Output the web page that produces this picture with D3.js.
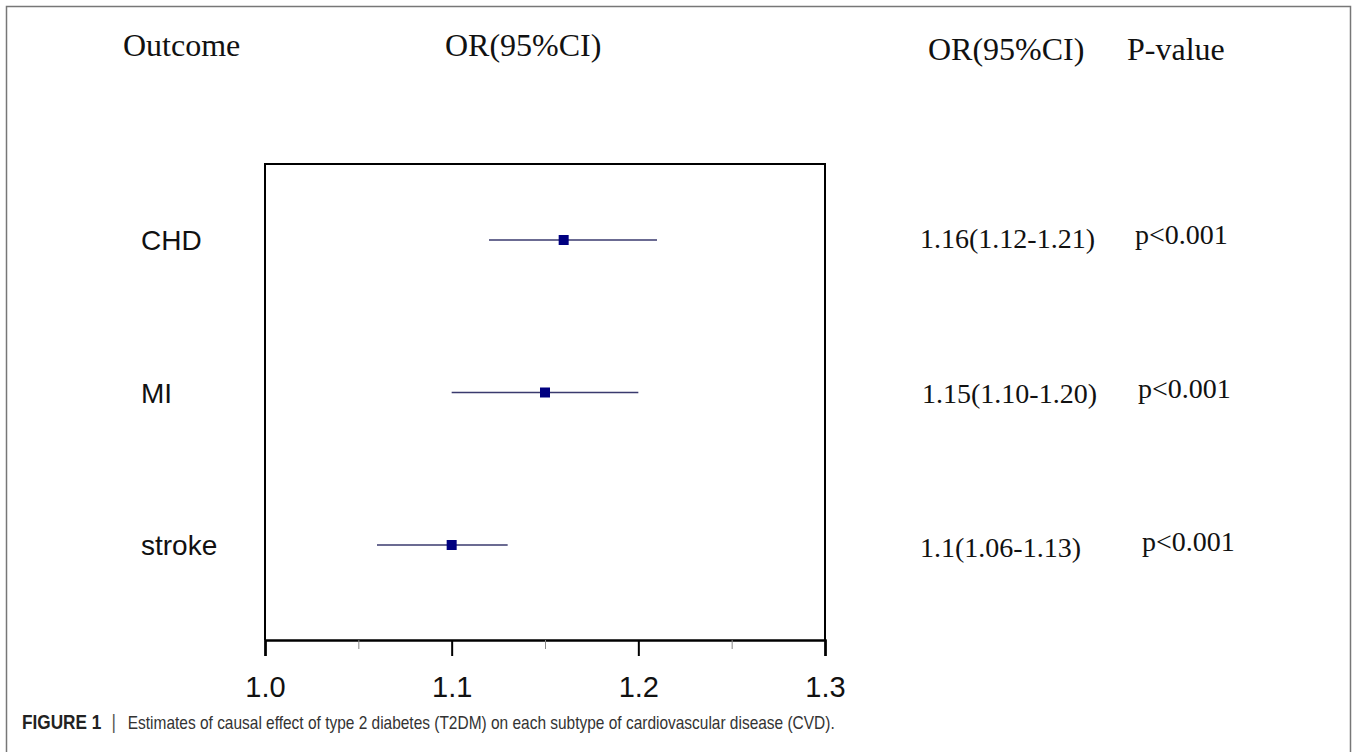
<!DOCTYPE html>
<html>
<head>
<meta charset="utf-8">
<script src="https://cdn.jsdelivr.net/npm/d3@7"></script>
<style>
  body { margin: 0; background: #fff; }
</style>
</head>
<body>
<div id="chart"></div>
<script>
// forest plot data
var outcomes = ["CHD", "MI", "stroke"];
var orValues = [1.16, 1.15, 1.10];
var ciLower = [1.12, 1.10, 1.06];
var ciUpper = [1.21, 1.20, 1.13];
var orLabels = ["1.16(1.12-1.21)", "1.15(1.10-1.20)", "1.1(1.06-1.13)"];
var pLabels = ["p<0.001", "p<0.001", "p<0.001"];
var majorTicks = [1.0, 1.1, 1.2, 1.3];
var minorTicks = [1.05, 1.15, 1.25];

var width = 1357, height = 752;

var svg = d3.select("#chart")
    .append("svg")
    .attr("width", width)
    .attr("height", height);

// outer frame
svg.append("rect")
    .attr("x", 6.5).attr("y", 6.5)
    .attr("width", 1344).attr("height", 760)
    .attr("fill", "none")
    .attr("stroke", "#777")
    .attr("stroke-width", 1.5);

var box = { left: 265, right: 825, top: 164, bottom: 640 };

var x = d3.scaleLinear([1.0, 1.3], [box.left, box.right]);
var y = d3.scalePoint(outcomes, [240, 545]);

// plot box (left, top, right)
svg.append("path")
    .attr("d", `M${box.left},${box.bottom}V${box.top}H${box.right}V${box.bottom}`)
    .attr("fill", "none")
    .attr("stroke", "#000")
    .attr("stroke-width", 2);

// x axis
var xAxis = g => g
    .attr("transform", `translate(0,${box.bottom})`)
    .call(d3.axisBottom(x).tickValues(majorTicks).tickSize(16).tickFormat(d3.format(".1f")))
    .call(g => g.select(".domain").attr("stroke-width", 2.5))
    .call(g => g.selectAll(".tick line").attr("stroke-width", 2))
    .call(g => g.selectAll(".tick text")
        .attr("dy", 0)
        .attr("y", 57)
        .attr("font-family", "Liberation Sans, Arial, sans-serif")
        .attr("font-size", 29)
        .attr("fill", "#111"));

svg.append("g").call(xAxis);

svg.append("g")
    .attr("transform", `translate(0,${box.bottom})`)
    .call(d3.axisBottom(x).tickValues(minorTicks).tickSize(9).tickFormat(""))
    .call(g => g.select(".domain").remove())
    .call(g => g.selectAll(".tick line").attr("stroke", "#888").attr("stroke-width", 1));

// CI lines
svg.append("g")
    .selectAll("line")
    .data(outcomes)
    .join("line")
    .attr("x1", (d, i) => x(ciLower[i]))
    .attr("x2", (d, i) => x(ciUpper[i]))
    .attr("y1", d => y(d))
    .attr("y2", d => y(d))
    .attr("stroke", "#3a3a6e")
    .attr("stroke-width", 1.6);

// point estimates
var sq = 10;
svg.append("g")
    .selectAll("rect")
    .data(outcomes)
    .join("rect")
    .attr("x", (d, i) => x(orValues[i]) - sq / 2)
    .attr("y", d => y(d) - sq / 2)
    .attr("width", sq)
    .attr("height", sq)
    .attr("fill", "#000080");

// row labels
svg.append("g")
    .selectAll("text")
    .data(outcomes)
    .join("text")
    .attr("x", 141)
    .attr("y", d => y(d) + 10)
    .attr("font-family", "Liberation Sans, Arial, sans-serif")
    .attr("font-size", 28)
    .attr("fill", "#111")
    .text(d => d);

var serif = "Liberation Serif, Times New Roman, serif";

// OR text column
svg.append("g")
    .selectAll("text")
    .data(orLabels)
    .join("text")
    .attr("x", (d, i) => [920, 922, 920][i])
    .attr("y", (d, i) => y(outcomes[i]) + 8 + i * 2)
    .attr("font-family", serif)
    .attr("font-size", 28)
    .attr("fill", "#111")
    .text(d => d);

// P-value column
svg.append("g")
    .selectAll("text")
    .data(pLabels)
    .join("text")
    .attr("x", (d, i) => [1135, 1138, 1142][i])
    .attr("y", (d, i) => y(outcomes[i]) + 4 + i * 1)
    .attr("font-family", serif)
    .attr("font-size", 28)
    .attr("fill", "#111")
    .text(d => d);

// header
var headers = [
    { t: "Outcome", x: 123 },
    { t: "OR(95%CI)", x: 445 },
    { t: "OR(95%CI)", x: 928 },
    { t: "P-value", x: 1127 }
];
svg.append("g")
    .selectAll("text")
    .data(headers)
    .join("text")
    .attr("x", d => d.x)
    .attr("y", (d, i) => i < 2 ? 56 : 60)
    .attr("font-family", serif)
    .attr("font-size", 32)
    .attr("fill", "#111")
    .text(d => d.t);

// caption, condensed sans
var cap = svg.append("g")
    .attr("transform", "translate(22,729) scale(0.86,1)")
    .append("text")
    .attr("font-family", "Liberation Sans, Arial, sans-serif")
    .attr("font-size", 18)
    .attr("fill", "#333");
cap.append("tspan").attr("font-weight", "bold").attr("font-size", 20).attr("fill", "#222").text("FIGURE 1");
cap.append("tspan").attr("x", 104).attr("font-size", 20).attr("fill", "#555").text("|");
cap.append("tspan").attr("x", 123).text("Estimates of causal effect of type 2 diabetes (T2DM) on each subtype of cardiovascular disease (CVD).");
</script>
</body>
</html>
